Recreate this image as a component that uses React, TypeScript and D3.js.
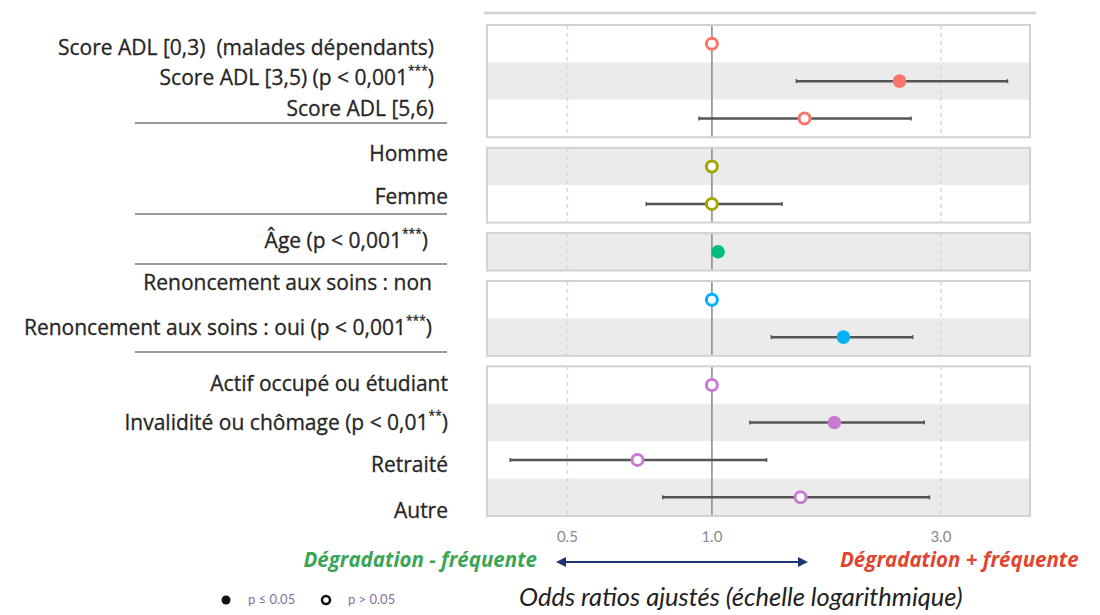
import React from "react";
import * as d3 from "d3";

// ---------- data ----------
const groups = ["ADL", "Sexe", "Age", "Renoncement", "Activite"];
const groupColors = ["#F8766D", "#A3A500", "#00BF7D", "#00B0F6", "#C77CD0"];

const labels = [
  ["Score ADL [0,3)  (malades dépendants)", "Score ADL [3,5) (p < 0,001|***|)", "Score ADL [5,6)"],
  ["Homme", "Femme"],
  ["Âge (p < 0,001|***|)"],
  ["Renoncement aux soins : non", "Renoncement aux soins : oui (p < 0,001|***|)"],
  ["Actif occupé ou étudiant", "Invalidité ou chômage (p < 0,01|**|)", "Retraité", "Autre"],
];
const oddsRatio = [
  [1.0, 2.46, 1.56],
  [1.0, 1.0],
  [1.03],
  [1.0, 1.88],
  [1.0, 1.8, 0.7, 1.53],
];
const ciLow = [
  [null, 1.5, 0.94],
  [null, 0.73],
  [null],
  [null, 1.33],
  [null, 1.2, 0.38, 0.79],
];
const ciHigh = [
  [null, 4.13, 2.6],
  [null, 1.4],
  [null],
  [null, 2.62],
  [null, 2.77, 1.3, 2.84],
];
const significant = [
  [false, true, false],
  [false, false],
  [true],
  [false, true],
  [false, true, false, false],
];
const xTicks = [0.5, 1.0, 3.0];
const xDomain = [0.34, 4.6];

// ---------- layout ----------
const W = 1100, H = 615;
const plotLeft = 487, plotRight = 1030;
const plotTop = 25, plotBottom = 516;
const gap = 10.5;
const groupLabelRight = [434, 448, 428, 432, 448];
// vertical nudges of the left-side labels relative to their row centers
const labelNudge = [
  [5, -2, -9],
  [-11, -6],
  [-10],
  [-16, -8],
  [0, 2, 6, 15],
];
const sepY = [123, 214, 264, 352];

export default function App() {
  const x = d3.scaleLog().domain(xDomain).range([plotLeft, plotRight]);
  const nRows = d3.sum(oddsRatio, (g) => g.length);
  const rowH = (plotBottom - plotTop - gap * (groups.length - 1)) / nRows;

  let cursor = plotTop;
  let rowIdx = 0;
  const panels = groups.map((g, gi) => {
    const n = oddsRatio[gi].length;
    const top = cursor;
    const rows = oddsRatio[gi].map((v, ri) => ({
      y0: top + ri * rowH,
      yc: top + (ri + 0.5) * rowH,
      global: rowIdx++,
      v,
      lo: ciLow[gi][ri],
      hi: ciHigh[gi][ri],
      sig: significant[gi][ri],
      label: labels[gi][ri],
      nudge: labelNudge[gi][ri],
    }));
    cursor = top + n * rowH + gap;
    return { top, bottom: top + n * rowH, rows, color: groupColors[gi], lx: groupLabelRight[gi] };
  });

  const renderLabel = (s: string) => {
    const parts = s.split("|");
    return parts.map((p, i) =>
      i % 2 === 1 ? (
        <tspan key={i} fontSize={12} dy={-7}>
          {p}
        </tspan>
      ) : (
        <tspan key={i} dy={i > 0 ? 7 : 0}>
          {p}
        </tspan>
      )
    );
  };

  const font = "'Open Sans', Lato, sans-serif";
  const font2 = "Lato, 'Open Sans', sans-serif";

  return (
    <svg width={W} height={H} style={{ position: "absolute", left: 0, top: 0, background: "#fff" }}>
      <defs>
        <marker id="arr" viewBox="0 0 10 10" refX="8" refY="5" markerWidth="5" markerHeight="5" orient="auto-start-reverse">
          <path d="M0,0 L10,5 L0,10 z" fill="#1e3574" />
        </marker>
      </defs>
      <line x1={484} x2={1036} y1={13} y2={13} stroke="#d4d4d4" strokeWidth={2.5} />

      {panels.map((p, pi) => (
        <g key={pi}>
          {p.rows.map((r) => (
            <rect
              key={"bg" + r.global}
              x={plotLeft}
              y={r.y0}
              width={plotRight - plotLeft}
              height={rowH}
              fill={r.global % 2 === 1 ? "#ebebeb" : "#ffffff"}
            />
          ))}
          {xTicks
            .filter((t) => t !== 1)
            .map((t) => (
              <line key={"g" + t} x1={x(t)} x2={x(t)} y1={p.top} y2={p.bottom} stroke="#d6d6d6" strokeWidth={1.5} strokeDasharray="4,4" />
            ))}
          <line x1={x(1)} x2={x(1)} y1={p.top} y2={p.bottom} stroke="#9a9a9a" strokeWidth={1.8} />
          <rect x={plotLeft} y={p.top} width={plotRight - plotLeft} height={p.bottom - p.top} fill="none" stroke="#d2d2d2" strokeWidth={2} />
          {p.rows.map((r) => (
            <g key={"pt" + r.global}>
              {r.lo != null && r.hi != null && (
                <g stroke="#555" strokeWidth={2.5}>
                  <line x1={x(r.lo)} x2={x(r.hi)} y1={r.yc} y2={r.yc} />
                  <line x1={x(r.lo)} x2={x(r.lo)} y1={r.yc - 2} y2={r.yc + 2} strokeWidth={1.5} />
                  <line x1={x(r.hi)} x2={x(r.hi)} y1={r.yc - 2} y2={r.yc + 2} strokeWidth={1.5} />
                </g>
              )}
              {r.sig ? (
                <circle cx={x(r.v)} cy={r.yc} r={6.8} fill={p.color} />
              ) : (
                <circle cx={x(r.v)} cy={r.yc} r={5.5} fill="#fff" stroke={p.color} strokeWidth={3} />
              )}
              <text
                x={p.lx}
                y={r.yc + r.nudge}
                textAnchor="end"
                dominantBaseline="middle"
                fontFamily={font}
                fontSize={21}
                fill="#262626"
                stroke="#262626"
                strokeWidth={0.3}
                style={{ whiteSpace: "pre" }}
              >
                {renderLabel(r.label)}
              </text>
            </g>
          ))}
        </g>
      ))}

      {sepY.map((y, i) => (
        <line key={"sep" + i} x1={135} x2={447} y1={y} y2={y} stroke="#999" strokeWidth={2} />
      ))}

      {xTicks.map((t) => (
        <text key={"t" + t} x={x(t)} y={538} textAnchor="middle" dominantBaseline="middle" fontFamily={font2} fontSize={15} fill="#8a8a8a">
          {d3.format(".1f")(t)}
        </text>
      ))}

      <line x1={558} x2={806} y1={562} y2={562} stroke="#1e3574" strokeWidth={2} markerStart="url(#arr)" markerEnd="url(#arr)" />
      <text x={537} y={562} textAnchor="end" dominantBaseline="middle" fontFamily={font} fontSize={20.5} fontWeight="bold" fontStyle="italic" fill="#3aa655">
        Dégradation - fréquente
      </text>
      <text x={840} y={562} textAnchor="start" dominantBaseline="middle" fontFamily={font} fontSize={20.5} fontWeight="bold" fontStyle="italic" fill="#e0452f">
        Dégradation + fréquente
      </text>

      <circle cx={226} cy={600} r={4.5} fill="#111" />
      <text x={248} y={601} dominantBaseline="middle" fontFamily={font2} fontSize={13} fill="#85739a">
        p ≤ 0.05
      </text>
      <circle cx={326} cy={600} r={4} fill="#fff" stroke="#111" strokeWidth={2.5} />
      <text x={348} y={601} dominantBaseline="middle" fontFamily={font2} fontSize={13} fill="#85739a">
        p &gt; 0.05
      </text>
      <text x={519} y={600} dominantBaseline="middle" fontFamily={font2} fontSize={25.5} fontStyle="italic" fill="#222">
        Odds ratios ajustés (échelle logarithmique)
      </text>
    </svg>
  );
}
